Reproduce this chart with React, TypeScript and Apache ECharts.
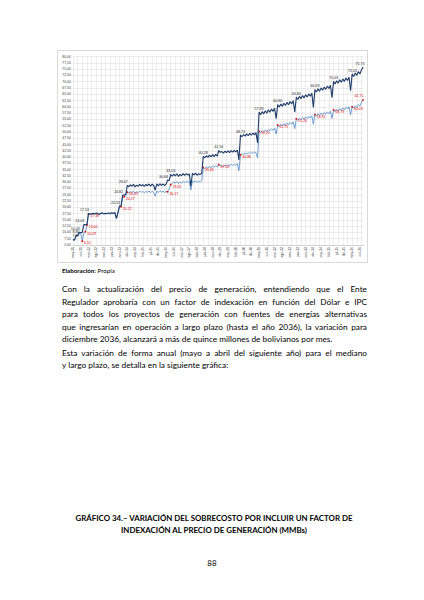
import React, { useEffect, useRef } from "react";
import * as echarts from "echarts";

// Month names (Spanish) and time span of the monthly series: may-21 .. dic-36
const monthNames = ["ene", "feb", "mar", "abr", "may", "jun", "jul", "ago", "sep", "oct", "nov", "dic"];
const startYear = 2021;
const startMonth = 4; // may
const monthCount = 188;

// Monthly values, MMBs – dark line (con indexación); one row per año tarifario (may..abr)
const darkValues = [
  7.07, 7.02, 8.85, 8.8, 10.03, 9.85, 10.1, 13.03, 13.1, 13.15, 17.53, 17.4,
  17.35, 17.6, 17.45, 17.7, 17.5, 17.25, 17.65, 17.8, 17.4, 17.6, 17.55, 17.75,
  17.5, 17.85, 17.6, 17.9, 15.6, 17.95, 20.53, 20.65, 24.82, 24.95, 25.1, 28.67,
  28.2, 28.95, 28.4, 29.15, 28.1, 28.85, 28.35, 29.2, 28.5, 29.05, 28.3, 29.1,
  28.6, 29.3, 28.45, 29.25, 28.7, 26.8, 29.35, 28.55, 29.4, 28.75, 29.3, 28.6,
  29.2, 30.84, 30.6, 33.03, 32.4, 33.2, 32.55, 33.35, 32.3, 33.1, 32.6, 33.4,
  32.7, 33.45, 32.85, 33.3, 28.4, 33.5, 32.9, 33.6, 32.75, 33.4, 33.0, 33.65,
  40.28, 39.7, 40.55, 39.9, 40.8, 40.1, 40.95, 40.2, 41.05, 40.4, 42.56, 41.9,
  42.2, 41.6, 42.35, 41.75, 42.5, 41.8, 42.6, 41.95, 42.7, 42.05, 42.8, 38.9,
  48.73, 48.1, 49.0, 48.35, 49.25, 48.5, 49.45, 48.7, 49.6, 48.85, 49.8, 45.6,
  57.83, 56.9, 58.1, 57.2, 58.45, 57.5, 58.8, 57.85, 59.1, 58.2, 59.45, 55.3,
  60.8, 59.95, 61.1, 60.2, 61.45, 60.55, 61.8, 60.85, 62.1, 61.2, 62.45, 57.9,
  63.84, 62.9, 64.15, 63.25, 64.5, 63.55, 64.8, 63.9, 65.15, 64.2, 65.45, 59.8,
  66.83, 65.9, 67.2, 66.25, 67.55, 66.6, 67.9, 66.95, 68.25, 67.3, 68.6, 63.6,
  70.03, 69.1, 70.4, 69.45, 70.75, 69.8, 71.1, 70.15, 71.45, 70.5, 71.8, 66.4,
  73.03, 72.1, 73.45, 72.55, 74.0, 73.1, 74.7, 75.73,
];

// Monthly values, MMBs – light line (sin indexación)
const lightValues = [
  6.95, 6.9, 8.7, 8.65, 9.9, 9.7, 6.51, 9.95, 10.29, 13.0, 17.38, 17.25,
  17.2, 17.45, 17.3, 17.55, 17.35, 17.1, 17.5, 17.6, 17.25, 17.45, 17.4, 17.55,
  17.35, 17.7, 17.45, 17.75, 15.45, 17.8, 20.1, 20.22, 23.9, 24.27, 24.4, 26.05,
  25.7, 26.3, 25.85, 26.45, 25.6, 26.2, 25.8, 26.5, 25.95, 26.35, 25.75, 26.4,
  25.9, 26.55, 25.8, 26.4, 26.0, 24.4, 26.5, 25.85, 26.6, 26.05, 26.45, 25.9,
  26.3, 26.17, 27.4, 29.05, 29.5, 30.05, 29.6, 30.25, 29.45, 30.1, 29.7, 30.3,
  29.8, 30.4, 29.9, 30.35, 26.9, 30.5, 29.95, 30.6, 29.85, 30.45, 30.05, 30.55,
  35.85, 35.4, 36.1, 35.6, 36.3, 35.75, 36.5, 35.9, 36.65, 36.1, 37.0, 36.4,
  36.7, 36.2, 36.85, 36.35, 37.05, 36.45, 37.15, 36.55, 37.25, 36.7, 37.35, 34.6,
  40.86, 41.4, 41.05, 41.6, 41.2, 41.75, 41.35, 41.9, 41.5, 42.05, 41.7, 39.8,
  50.24, 49.7, 50.55, 49.95, 50.8, 50.2, 51.05, 50.45, 51.3, 50.7, 51.55, 49.2,
  52.75, 52.1, 53.0, 52.35, 53.3, 52.6, 53.55, 52.85, 53.8, 53.1, 54.05, 51.3,
  55.26, 54.6, 55.5, 54.85, 55.75, 55.05, 56.0, 55.3, 56.25, 55.55, 56.45, 53.1,
  56.95, 56.3, 57.25, 56.55, 57.5, 56.8, 57.75, 57.05, 58.0, 57.3, 58.25, 55.4,
  58.79, 58.1, 59.05, 58.35, 59.3, 58.6, 59.55, 58.85, 59.8, 59.1, 60.05, 56.9,
  60.03, 59.4, 60.45, 59.8, 60.95, 60.3, 61.7, 62.71,
];

// Months whose value carries a data label
const darkLabelMonths = [0, 2, 4, 7, 10, 30, 32, 35, 61, 63, 84, 94, 108, 120, 132, 144, 156, 168, 180, 187];
const lightLabelMonths = [6, 8, 9, 10, 31, 33, 35, 61, 63, 84, 94, 108, 120, 132, 144, 156, 168, 180, 187];
// Early step labels of the dark line sit to the upper left of their point
const darkLeftLabelMonths = [4, 7, 10, 30, 32, 35, 61];

// Y axis range
const yMin = 5;
const yMax = 80;
const yStep = 2.5;

const categories: string[] = [];
for (let k = 0; k < monthCount; k++) {
  const m = (startMonth + k) % 12;
  const y = startYear + Math.floor((startMonth + k) / 12);
  categories.push(monthNames[m] + "-" + String(y).slice(2));
}

const fmt = (v: number) => v.toFixed(2).replace(".", ",");

function Chart() {
  const ref = useRef<HTMLDivElement>(null);
  useEffect(() => {
    if (!ref.current) return;
    const chart = echarts.init(ref.current, null, { renderer: "svg" });
    const darkSet = new Set(darkLabelMonths);
    const darkLeftSet = new Set(darkLeftLabelMonths);
    const lightSet = new Set(lightLabelMonths);
    const lastIdx = monthCount - 1;
    const darkLabel = (i: number) => {
      if (darkLeftSet.has(i)) return { show: true, offset: [-4, 0] };
      if (i === 0) return { show: true, offset: [3, 0] };
      if (i === lastIdx) return { show: true, offset: [-3, 0] };
      return { show: true };
    };
    const darkData = darkValues.map((v, i) =>
      darkSet.has(i)
        ? { value: v, symbol: "circle", symbolSize: 0.8, label: darkLabel(i) }
        : { value: v, symbol: "none" }
    );
    const lightData = lightValues.map((v, i) =>
      lightSet.has(i)
        ? {
            value: v,
            symbol: "rect",
            symbolSize: 1.6,
            itemStyle: { color: "#e00000" },
            label:
              i === lastIdx
                ? { show: true, position: "top", offset: [-4, 0] }
                : { show: true },
          }
        : { value: v, symbol: "none" }
    );
    chart.setOption({
      animation: false,
      backgroundColor: "#ffffff",
      grid: { left: 15, right: 4, top: 5.6, bottom: 17, containLabel: false },
      xAxis: {
        type: "category",
        data: categories,
        boundaryGap: false,
        axisTick: { show: false },
        axisLine: { lineStyle: { color: "#bfbfbf", width: 0.6 } },
        axisLabel: {
          interval: 4,
          rotate: 90,
          fontSize: 3.4,
          color: "#404040",
          margin: 2,
          fontFamily: "Liberation Sans",
        },
        splitLine: { show: true, interval: 2, lineStyle: { color: "#dcdcdc", width: 0.5 } },
      },
      yAxis: {
        type: "value",
        min: yMin,
        max: yMax,
        interval: yStep,
        axisLine: { show: false },
        axisTick: { show: false },
        axisLabel: {
          fontSize: 3.5,
          color: "#404040",
          margin: 2,
          fontFamily: "Liberation Sans",
          formatter: (v: number) => fmt(v),
        },
        splitLine: { lineStyle: { color: "#d9d9d9", width: 0.5 } },
      },
      series: [
        {
          type: "line",
          data: lightData,
          showSymbol: true,
          showAllSymbol: true,
          lineStyle: { color: "#4f86c6", width: 0.8 },
          itemStyle: { color: "#4f86c6" },
          label: {
            show: false,
            position: "right",
            distance: 1,
            offset: [0, 2],
            fontSize: 3.5,
            color: "#e00000",
            fontFamily: "Liberation Sans",
            formatter: (p: any) => fmt(Number(p.value)),
          },
          z: 2,
        },
        {
          type: "line",
          data: darkData,
          showSymbol: true,
          showAllSymbol: true,
          lineStyle: { color: "#1f3b68", width: 1.1 },
          itemStyle: { color: "#1f3b68" },
          label: {
            show: false,
            position: "top",
            distance: 1,
            fontSize: 3.6,
            color: "#262626",
            fontFamily: "Liberation Sans",
            formatter: (p: any) => fmt(Number(p.value)),
          },
          z: 3,
        },
      ],
    });
    return () => chart.dispose();
  }, []);
  return (
    <div
      ref={ref}
      style={{
        position: "absolute",
        left: 58,
        top: 51,
        width: 309,
        height: 211,
        outline: "1px solid #d9d9d9",
      }}
    />
  );
}

const bodyFont = "Lato, 'Open Sans', sans-serif";

const para1 = [
  "Con la actualización del precio de generación, entendiendo que el Ente",
  "Regulador aprobaría con un factor de indexación en función del Dólar e IPC",
  "para todos los proyectos de generación con fuentes de energías alternativas",
  "que ingresarían en operación a largo plazo (hasta el año 2036), la variación para",
  "diciembre 2036, alcanzará a más de quince millones de bolivianos por mes.",
];
const para2 = [
  "Esta variación de forma anual (mayo a abril del siguiente año) para el mediano",
  "y largo plazo, se detalla en la siguiente gráfica:",
];
const titleLines = [
  "GRÁFICO 34.– VARIACIÓN DEL SOBRECOSTO POR INCLUIR UN FACTOR DE",
  "INDEXACIÓN AL PRECIO DE GENERACIÓN (MMBs)",
];

function Line({ text, top, justify }: { text: string; top: number; justify: boolean }) {
  return (
    <div
      style={{
        position: "absolute",
        left: 62,
        top,
        width: 305,
        height: 13,
        lineHeight: "13px",
        fontSize: 8.3,
        fontFamily: bodyFont,
        color: "#000000",
        textAlign: justify ? "justify" : "left",
        textAlignLast: justify ? "justify" : "left",
        whiteSpace: "nowrap",
      } as React.CSSProperties}
    >
      {text}
    </div>
  );
}

export default function App() {
  return (
    <div
      style={{
        position: "absolute",
        left: 0,
        top: 0,
        width: 424,
        height: 600,
        background: "#ffffff",
        overflow: "hidden",
      }}
    >
      <Chart />
      <div
        style={{
          position: "absolute",
          left: 62,
          top: 267,
          fontSize: 6.2,
          lineHeight: "8px",
          fontFamily: bodyFont,
          color: "#000000",
        }}
      >
        <b>Elaboración:</b> Propia
      </div>
      {para1.map((t, i) => (
        <Line key={"a" + i} text={t} top={283 + i * 12.6} justify={i < para1.length - 1} />
      ))}
      {para2.map((t, i) => (
        <Line key={"b" + i} text={t} top={346.5 + i * 12.6} justify={i < para2.length - 1} />
      ))}
      {titleLines.map((t, i) => (
        <div
          key={"t" + i}
          style={{
            position: "absolute",
            left: 30,
            width: 368,
            top: 512 + i * 12,
            lineHeight: "12px",
            textAlign: "center",
            fontSize: 7.9,
            fontWeight: 700,
            fontFamily: bodyFont,
            color: "#000000",
            whiteSpace: "nowrap",
          }}
        >
          {t}
        </div>
      ))}
      <div
        style={{
          position: "absolute",
          left: 0,
          width: 424,
          top: 557,
          lineHeight: "12px",
          textAlign: "center",
          fontSize: 8,
          fontFamily: bodyFont,
          color: "#000000",
        }}
      >
        88
      </div>
    </div>
  );
}
